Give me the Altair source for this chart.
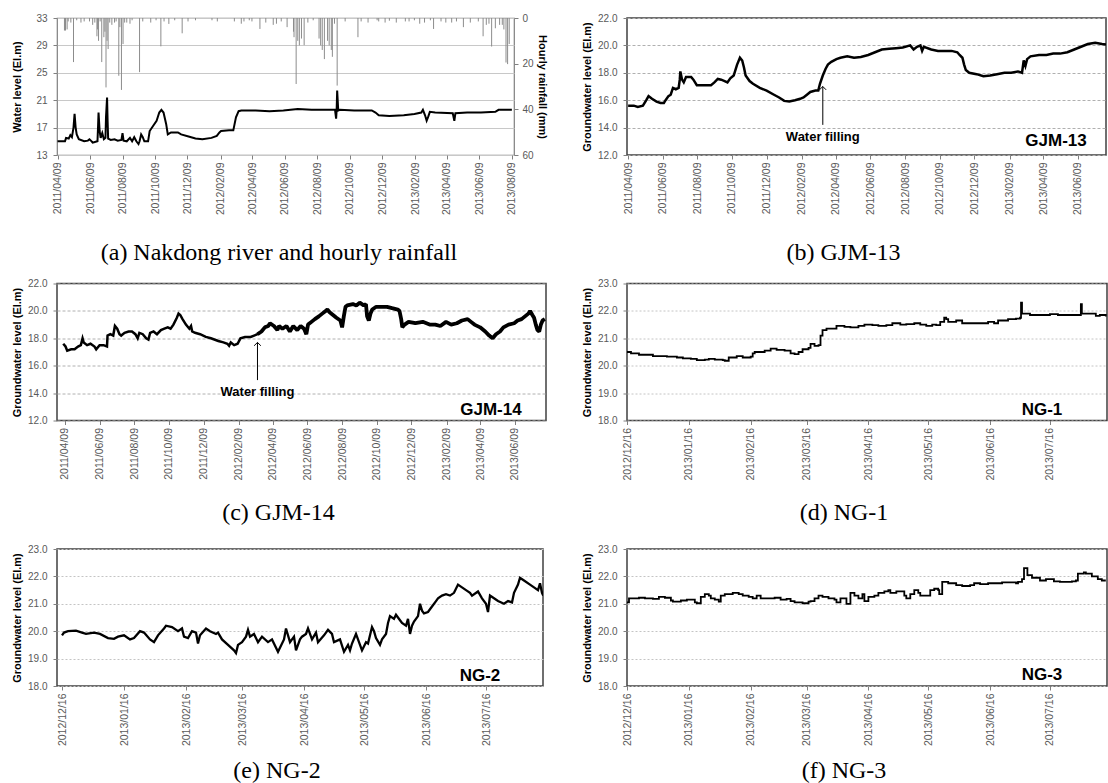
import altair as alt
import pandas as pd

FONT = "Liberation Sans"
SERIF = "Liberation Serif"

# ---------------- data ----------------
# (a) Nakdong river water level and hourly rainfall (days after 2011-04-09)
A_START = "2011-04-09"
a_level_day = [0,7,14,16,21,24,27,30,32,34,36,40,50,57,60,64,66,70,75,76,77,79,81,84,87,90,91,93,94,95,
               100,107,113,120,122,124,130,136,140,144,148,152,154,157,160,163,170,173,179,186,191,195,199,204,207,
               213,226,232,246,259,272,289,299,304,307,322,330,335,340,345,372,398,424,451,477,504,521,523,524,525,
               527,530,557,590,597,603,623,650,670,683,686,690,693,696,699,709,742,745,747,769,795,822,828,848,853]
a_level = [15.0,15.0,15.0,15.5,15.4,15.9,15.6,17.0,19.0,17.0,16.0,15.3,15.0,15.1,15.3,15.0,14.8,14.9,15.0,17.0,
           19.2,16.5,15.5,16.2,15.3,15.5,18.5,21.4,18.0,15.4,15.2,15.3,15.1,15.2,16.2,15.1,15.0,15.5,15.0,15.6,
           15.0,14.6,15.0,16.0,15.6,15.0,15.0,16.5,17.2,18.0,19.2,19.6,19.2,17.5,16.0,16.3,16.3,16.0,15.7,15.4,
           15.3,15.5,15.8,16.3,16.5,16.6,16.6,18.5,19.4,19.5,19.5,19.4,19.5,19.7,19.6,19.6,19.6,18.3,19.5,22.4,
           19.5,19.6,19.5,19.5,19.2,18.8,18.7,18.8,19.0,19.2,19.6,18.8,18.0,18.6,19.3,19.2,19.1,18.0,19.1,19.2,
           19.2,19.3,19.6,19.6,19.6]
a_rain_day = [13,15,18,20,25,30,36,44,50,60,66,70,74,75,77,80,83,87,89,91,93,95,98,102,107,110,115,117,120,123,
              126,130,136,140,154,160,175,185,194,200,209,220,234,245,259,290,300,332,345,350,360,365,380,391,405,
              411,420,431,443,444,448,451,454,458,463,470,480,491,494,497,501,507,510,514,516,520,525,540,564,570,
              583,600,603,615,623,636,653,660,670,680,689,700,706,720,729,740,749,762,775,790,799,805,810,815,822,
              830,835,838,842,845,848]
a_rain = [5.5,5.5,5.0,1.5,2,19.3,1,2.0,1.5,1.5,3,2,8.0,5.0,10,1.5,19.3,8.4,6,30.4,10,13.6,2,3,2,1.5,25.3,4,31.5,11.4,
          2,2,2.5,1,23.7,1.5,2,1,12.4,1.5,2.6,1,6.7,1.5,1.0,1,1.5,1.5,2.5,1.5,1,1.5,4.8,2,3,
          2.5,1.5,4.0,6,8.4,28.9,10,12,9,11.9,2,1,9,12,14,18,10,12,14,17,2.5,29.6,1.5,8.4,1.5,
          2,1,1.5,2,1.2,2,1.5,1.5,1,2.5,2,1,4.8,1.5,2,2,1.5,4,2,1.5,8,3,2.5,12.5,4.5,
          3,3,5,19.5,20.2,11.4]

# (b) GJM-13 (days after 2011-04-09)
b_day = [0,10,17,26,32,36,42,50,57,63,66,71,75,79,84,89,91,92,95,98,102,106,111,115,121,127,146,152,158,164,
         170,175,180,186,192,197,201,204,207,214,220,232,244,257,266,275,284,294,303,309,315,321,330,335,338,343,
         348,352,358,367,374,386,398,410,423,435,447,460,472,484,497,503,509,515,518,521,534,546,558,570,580,584,
         589,592,595,601,614,626,638,650,663,675,687,694,697,700,703,709,724,737,749,761,774,786,798,810,823,835,844]
b_val = [15.6,15.6,15.5,15.6,16.0,16.3,16.1,15.9,15.8,15.8,16.0,16.3,16.4,16.9,16.8,16.9,17.5,18.1,17.5,17.3,
         17.7,17.7,17.7,17.5,17.1,17.1,17.1,17.3,17.55,17.5,17.4,17.3,17.6,17.8,18.6,19.1,18.9,18.4,17.8,17.4,
         17.2,16.9,16.7,16.4,16.2,15.95,15.9,16.0,16.1,16.2,16.4,16.6,16.7,16.7,17.2,17.8,18.3,18.6,18.8,19.0,
         19.1,19.2,19.1,19.15,19.3,19.5,19.7,19.75,19.8,19.85,20.0,19.7,19.9,20.0,19.6,19.9,19.7,19.6,19.6,19.6,
         19.5,19.3,19.1,18.6,18.2,18.0,17.9,17.75,17.8,17.9,18.0,18.0,18.1,18.0,18.9,18.5,19.0,19.2,19.3,19.3,
         19.4,19.4,19.5,19.7,19.9,20.1,20.2,20.1,20.05]

# (c) GJM-14 (days after 2011-04-09)
c_day = [-3,1,4,11,17,23,28,31,33,39,45,52,55,61,68,74,75,80,85,88,92,96,99,105,112,118,124,128,131,137,
         143,147,150,156,162,169,175,181,186,191,197,200,203,207,213,219,222,224,229,238,248,257,270,279,286,289,
         292,298,304,309,317,327,333,339,346,352,358,361,368,374,377,383,390,396,402,409,415,421,425,428,434,440,
         447,453,459,462,466,472,478,485,488,491,494,497,507,513,519,526,530,532,535,538,541,548,557,567,576,586,
         589,592,594,598,605,617,630,642,652,661,671,680,690,699,709,715,721,731,740,747,753,759,766,772,781,791,
         797,804,810,816,819,823,826,829,832,835,838,841,845]
c_val = [17.6,17.4,17.1,17.2,17.2,17.4,17.5,18.0,17.7,17.5,17.6,17.4,17.2,17.5,17.5,17.4,18.2,18.3,18.2,18.9,
         18.7,18.3,18.2,18.4,18.5,18.5,18.3,18.0,18.4,18.3,18.0,17.9,18.4,18.5,18.3,18.6,18.7,18.8,18.7,19.0,
         19.5,19.8,19.7,19.4,19.0,18.7,18.9,18.5,18.4,18.3,18.1,18.0,17.8,17.7,17.6,17.45,17.7,17.5,17.6,18.0,
         18.1,18.1,18.2,18.3,18.5,18.8,18.9,19.1,18.9,18.6,18.9,18.7,18.9,18.5,18.9,18.6,18.9,18.7,18.3,19.0,
         19.2,19.4,19.6,19.8,20.0,20.1,19.9,19.7,19.5,19.3,18.8,19.6,20.3,20.4,20.5,20.4,20.6,20.4,20.5,19.6,
         19.3,19.8,20.1,20.3,20.3,20.3,20.2,20.1,20.0,19.4,18.8,19.0,19.2,19.1,19.2,19.0,19.0,18.9,19.2,19.0,
         19.1,19.3,19.4,19.2,19.0,18.8,18.5,18.2,18.0,18.3,18.5,18.8,19.0,19.1,19.3,19.4,19.6,19.8,20.0,19.7,
         19.5,19.0,18.6,18.5,19.0,19.3,19.4]
C_NOISY_FROM = 339  # day from which the GJM-14 record becomes a thick noisy band

# (d) NG-1, (e) NG-2, (f) NG-3 (days after 2012-12-16)
NG_START = "2012-12-16"
d_day = [0,2,6,13,20,25,28,32,35,39,41,44,48,49,51,55,58,62,63,64,69,72,75,79,82,84,86,88,91,92,
         94,96,97,98,100,104,105,109,112,116,119,123,126,130,133,137,140,144,147,150,153,155,157,159,160,161,
         165,168,174,177,181,184,186,191,195,197,197.5,198,202,205,209,212,216,223,227,227.5,228,231,235,237,240]
d_val = [20.5,20.45,20.4,20.35,20.33,20.3,20.27,20.25,20.2,20.22,20.25,20.22,20.2,20.18,20.3,20.35,20.3,20.33,20.45,20.5,
         20.55,20.62,20.58,20.55,20.45,20.42,20.5,20.6,20.65,20.8,20.72,20.75,21.1,21.3,21.35,21.35,21.45,21.42,21.4,21.45,
         21.5,21.48,21.45,21.48,21.55,21.5,21.52,21.55,21.5,21.45,21.5,21.48,21.6,21.75,21.7,21.6,21.65,21.55,21.55,21.55,
         21.6,21.55,21.65,21.7,21.72,21.75,22.3,21.9,21.85,21.85,21.85,21.88,21.85,21.85,21.85,22.25,21.9,21.9,21.82,21.85,
         21.8]
e_day = [0,1,3,7,10,12,16,19,23,26,28,31,34,36,39,41,44,46,48,51,52,55,58,60,61,63,65,67,68,69,
         72,74,77,78,80,83,86,87,88,90,92,93,94,96,98,100,103,105,108,111,112,114,116,117,119,120,122,123,125,127,
         128,131,133,135,136,139,141,143,144,145,147,149,150,152,153,155,156,157,159,160,162,163,164,166,167,169,
         170,172,173,174,175,176,178,179,180,181,183,185,187,188,190,192,194,196,198,200,202,204,205,208,210,212,
         213,214,216,218,221,223,225,226,228,229,231,234,236,238,239,240,240.6]
e_val = [19.85,19.95,20.0,20.02,19.95,19.9,19.95,19.9,19.75,19.72,19.8,19.85,19.7,19.75,20.0,19.95,19.7,19.6,19.85,20.1,
         20.2,20.15,20.0,20.1,19.8,19.75,20.0,19.95,19.55,19.85,20.1,20.0,19.9,19.95,19.7,19.5,19.3,19.2,19.5,19.6,
         19.8,20.05,19.8,19.9,19.6,19.8,19.6,19.7,19.25,19.7,20.1,19.6,19.8,19.3,19.7,19.8,19.9,20.1,19.7,19.95,
         19.6,19.85,20.05,19.9,19.6,19.7,19.25,19.5,19.3,19.55,19.9,19.5,19.3,19.6,19.55,20.15,20.0,19.75,19.5,19.7,
         19.9,20.3,20.55,20.45,20.6,20.4,20.3,20.2,20.45,19.9,20.2,20.35,20.55,21.0,20.75,20.65,20.7,20.9,21.1,21.2,
         21.3,21.35,21.3,21.4,21.7,21.6,21.5,21.4,21.3,21.45,21.2,21.0,20.7,21.3,21.2,21.1,21.0,21.1,21.05,21.4,
         21.7,21.95,21.85,21.7,21.6,21.5,21.75,21.4,21.3]
f_day = [0,1,6,9,13,16,19,22,23,27,30,33,34,35,37,39,41,42,44,46,47,49,53,56,58,61,63,65,67,70,
         74,77,80,82,84,88,91,92,94,96,98,101,104,105,107,110,112,114,116,118,119,121,124,126,129,131,132,135,137,139,
         140,142,144,146,147,150,152,154,156,156.5,158,161,165,168,172,174,177,181,184,188,191,195,196,198,199,200.7,
         203,207,210,214,217,221,223,225,226,229,230,233,236,238,240]
f_val = [21.05,21.2,21.22,21.2,21.18,21.25,21.22,21.12,21.08,21.12,21.15,21.15,21.05,21.02,21.25,21.35,21.3,21.2,21.15,21.08,
         21.3,21.35,21.4,21.35,21.3,21.25,21.2,21.3,21.2,21.2,21.22,21.15,21.18,21.1,21.05,21.02,21.08,21.1,21.2,21.3,
         21.25,21.2,21.15,21.05,21.2,21.0,21.4,21.3,21.2,21.35,21.1,21.25,21.3,21.4,21.45,21.5,21.4,21.45,21.45,21.3,
         21.2,21.35,21.5,21.4,21.3,21.3,21.5,21.55,21.5,21.35,21.8,21.75,21.68,21.65,21.68,21.75,21.72,21.75,21.75,21.78,
         21.78,21.75,21.8,21.9,22.3,22.05,21.95,21.85,21.9,21.82,21.8,21.8,21.82,21.85,22.1,22.15,22.1,22.0,21.9,21.85,
         21.85]

# tick labels
A_TICKS = ["2011-04-09","2011-06-09","2011-08-09","2011-10-09","2011-12-09","2012-02-09","2012-04-09",
           "2012-06-09","2012-08-09","2012-10-09","2012-12-09","2013-02-09","2013-04-09","2013-06-09","2013-08-09"]
B_TICKS = A_TICKS[:-1]
NG_TICKS = ["2012-12-16","2013-01-16","2013-02-16","2013-03-16","2013-04-16","2013-05-16","2013-06-16","2013-07-16"]

# annotations: (day, arrow bottom, arrow tip, text level)
b_arrow = (343, 14.2, 17.0, 13.35)
c_arrow = (339, 14.95, 17.7, 14.05)
station_pos = {"GJM-13": (754, 13.05), "GJM-14": (750, 12.8), "NG-1": (208, 18.4),
               "NG-2": (209, 18.38), "NG-3": (208, 18.4)}


# ---------------- helpers ----------------
def to_dates(start, days):
    s = pd.Timestamp(start)
    return [(s + pd.Timedelta(days=float(d))).strftime("%Y-%m-%dT%H:%M:%SZ") for d in days]


def dt(start, days=0.0):
    t = pd.Timestamp(start) + pd.Timedelta(days=float(days))
    return alt.DateTime(year=int(t.year), month=int(t.month), date=int(t.day),
                        hours=int(t.hour), minutes=int(t.minute), utc=True)


def x_enc(start, dom, ticks):
    return alt.X("date:T",
                 scale=alt.Scale(type="utc", domain=[dt(start, dom[0]), dt(start, dom[1])], nice=False),
                 axis=alt.Axis(values=[dt(t) for t in ticks],
                               labelExpr="utcFormat(datum.value, '%Y/%m/%d')",
                               labelAngle=270, labelAlign="right", labelBaseline="middle",
                               labelFlush=False, labelOverlap=False, labelFont=FONT, labelFontSize=10.5,
                               labelColor="#595959", labelPadding=3, tickSize=4, tickColor="#808080",
                               domain=False, grid=False, title=None))


def y_enc(field, ydom, yvals, fmt, title, ext, tp, lpad, grid_color="#b0b0b0", grid_dash=(3, 2),
          orient="left", grid=True, reverse=False):
    return alt.Y(f"{field}:Q",
                 scale=alt.Scale(domain=ydom, nice=False, zero=False, reverse=reverse),
                 axis=alt.Axis(orient=orient, values=yvals, format=fmt, title=title,
                               titleFont=FONT, titleFontSize=11, titleFontWeight="bold", titleColor="black",
                               titlePadding=tp, minExtent=ext, maxExtent=ext,
                               labelFont=FONT, labelFontSize=10, labelColor="#595959", labelPadding=lpad,
                               tickSize=4, tickColor="#808080", domain=False,
                               grid=grid, gridColor=grid_color, gridDash=list(grid_dash), gridWidth=1))


def caption(text, offset):
    return alt.TitleParams(text=text, orient="bottom", anchor="middle", font=SERIF, fontSize=24,
                           fontWeight="normal", color="black", offset=offset, frame="bounds")


def gw_panel(start, days, vals, dom, ticks, ydom, yvals, station, cap, width, height, cap_off, sw,
             arrow=None, grid_color="#b0b0b0", grid_dash=(3, 2), interp="linear", noisy_from=None, noisy_sw=None):
    xe = x_enc(start, dom, ticks)
    ytitle = "Groundwater level (El.m)"

    def ye(field="level"):
        return y_enc(field, ydom, yvals, ".1f", ytitle, 31, 4, 6, grid_color, grid_dash)

    df = pd.DataFrame({"date": to_dates(start, days), "level": vals, "day": days})
    base = alt.Chart(df)
    if noisy_from is None:
        layers = [base.mark_line(color="black", strokeWidth=sw, interpolate=interp, clip=True)
                  .encode(x=xe, y=ye())]
    else:
        layers = [base.transform_filter(alt.datum.day <= noisy_from + 7)
                  .mark_line(color="black", strokeWidth=sw, interpolate=interp, clip=True)
                  .encode(x=xe, y=ye()),
                  base.transform_filter(alt.datum.day >= noisy_from)
                  .mark_line(color="black", strokeWidth=noisy_sw, interpolate=interp, clip=True,
                             strokeJoin="bevel")
                  .encode(x=xe, y=ye())]
    sx, sy = station_pos[station]
    sdf = pd.DataFrame({"date": to_dates(start, [sx]), "level": [sy], "t": [station]})
    layers.append(alt.Chart(sdf).mark_text(font=FONT, fontSize=17, fontWeight="bold", color="black")
                  .encode(x=xe, y=ye(), text="t:N"))
    if arrow is not None:
        ad, y_lo, y_hi, y_txt = arrow
        rdf = pd.DataFrame({"date": to_dates(start, [ad]), "level": [y_lo], "level2": [y_hi]})
        layers.append(alt.Chart(rdf).mark_rule(color="black", strokeWidth=1)
                      .encode(x=xe, y=ye(), y2="level2:Q"))
        hdf = pd.DataFrame({"date": to_dates(start, [ad]), "level": [y_hi]})
        layers.append(alt.Chart(hdf).mark_point(shape="M-1,1L0,0L1,1", filled=False, size=45,
                                                color="black", strokeWidth=1, opacity=1)
                      .encode(x=xe, y=ye()))
        tdf = pd.DataFrame({"date": to_dates(start, [ad]), "level": [y_txt], "t": ["Water filling"]})
        layers.append(alt.Chart(tdf).mark_text(font=FONT, fontSize=13, fontWeight="bold", color="black")
                      .encode(x=xe, y=ye(), text="t:N"))
    return alt.layer(*layers).properties(width=width, height=height, title=caption(cap, cap_off))


# ---------------- panel (a) ----------------
xa = x_enc(A_START, (-1, 857), A_TICKS)
rain_df = pd.DataFrame({"date": to_dates(A_START, a_rain_day), "rain": a_rain})
lvl_df = pd.DataFrame({"date": to_dates(A_START, a_level_day), "level": a_level})
rain = alt.Chart(rain_df).mark_rule(color="#8c8c8c", strokeWidth=1).encode(
    x=xa,
    y=y_enc("rain", [0, 60], [0, 20, 40, 60], "d", "Hourly rainfall (mm)", 18, 4, 4,
            orient="right", grid=False, reverse=True),
    y2=alt.datum(0))
lvl = alt.Chart(lvl_df).mark_line(color="black", strokeWidth=2, clip=True).encode(
    x=xa,
    y=y_enc("level", [13, 33], [13, 17, 21, 25, 29, 33], "d", "Water level (El.m)", 31, 4, 6,
            grid_color="#c8c8c8", grid_dash=()))
panel_a = alt.layer(rain, lvl).resolve_scale(y="independent").properties(
    width=457, height=137, title=caption("(a) Nakdong river and hourly rainfall", 26),
    view=alt.ViewBackground(stroke="#7f7f7f", strokeWidth=1.2))

# ---------------- groundwater panels ----------------
GW_TICKS = [12, 14, 16, 18, 20, 22]
NG_Y = [18, 19, 20, 21, 22, 23]
panel_b = gw_panel(A_START, b_day, b_val, (-2, 842), B_TICKS, [12, 22], GW_TICKS,
                   "GJM-13", "(b) GJM-13", 479, 137, 26, 2.5, arrow=b_arrow)
panel_c = gw_panel(A_START, c_day, c_val, (-14, 847), B_TICKS, [12, 22], GW_TICKS,
                   "GJM-14", "(c) GJM-14", 489, 137, 21, 2.5, arrow=c_arrow,
                   noisy_from=C_NOISY_FROM, noisy_sw=3.8)
panel_d = gw_panel(NG_START, d_day, d_val, (0, 240.6), NG_TICKS, [18, 23], NG_Y,
                   "NG-1", "(d) NG-1", 480, 137, 21, 1.8, grid_color="#c4c4c4", grid_dash=(2, 2),
                   interp="step-after")
panel_e = gw_panel(NG_START, e_day, e_val, (-2.5, 240.5), NG_TICKS, [18, 23], NG_Y,
                   "NG-2", "(e) NG-2", 486, 137, 13, 2.3, grid_color="#c4c4c4", grid_dash=(2, 2),
                   interp="linear")
panel_f = gw_panel(NG_START, f_day, f_val, (0, 240.6), NG_TICKS, [18, 23], NG_Y,
                   "NG-3", "(f) NG-3", 480, 137, 13, 1.8, grid_color="#c4c4c4", grid_dash=(2, 2),
                   interp="step-after")

chart = alt.concat(panel_a, panel_b, panel_c, panel_d, panel_e, panel_f, columns=2,
                   spacing={"row": 128.5, "column": 81}, bounds="flush", align="all").properties(
    padding={"left": 10, "top": 12, "right": 0, "bottom": 0}, background="white"
).configure_view(stroke="#404040", strokeWidth=1.5)

chart.save("out.html", embed_options={"renderer": "svg", "actions": False})
